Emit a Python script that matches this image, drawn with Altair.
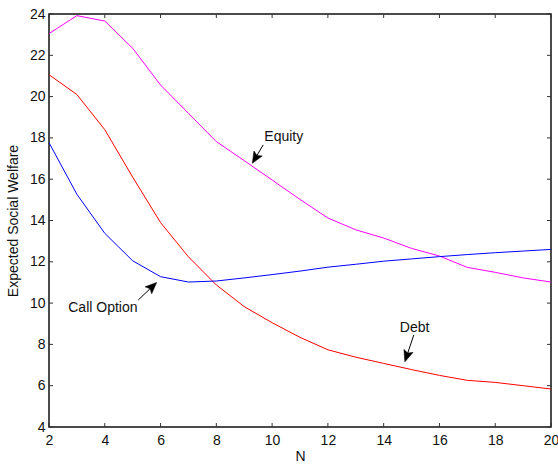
import math
import altair as alt
import pandas as pd

N = list(range(2, 21))
equity = [23.05, 23.92, 23.66, 22.34, 20.56, 19.19, 17.82, 16.9, 15.96, 15.02,
          14.12, 13.55, 13.15, 12.65, 12.28, 11.73, 11.49, 11.22, 11.02]
debt = [21.06, 20.1, 18.4, 16.1, 13.9, 12.24, 10.88, 9.83, 9.05, 8.34,
        7.74, 7.38, 7.08, 6.78, 6.5, 6.26, 6.16, 6.0, 5.84]
call_option = [17.77, 15.27, 13.38, 12.05, 11.28, 11.02, 11.07, 11.22, 11.38, 11.55,
               11.74, 11.88, 12.03, 12.14, 12.25, 12.35, 12.44, 12.52, 12.6]

series_names = ["Equity", "Debt", "Call Option"]
series_colors = ["#FF00FF", "#FF0000", "#0000FF"]

x_ticks = list(range(2, 21, 2))
y_ticks = list(range(4, 25, 2))

# annotations: label text, text anchor, arrow tail, arrow head
ann_labels = ["Equity", "Call Option", "Debt"]
ann_text_x = [9.72, 2.69, 14.58]
ann_text_y = [18.06, 9.75, 8.78]
ann_tail_x = [9.68, 5.2, 15.08]
ann_tail_y = [17.66, 10.15, 8.46]
ann_head_x = [9.29, 5.86, 14.76]
ann_head_y = [16.77, 11.0, 7.16]

W, H = 502, 413
XMIN, XMAX, YMIN, YMAX = 2, 20, 4, 24

rows = []
for name, vals in zip(series_names, [equity, debt, call_option]):
    for n, v in zip(N, vals):
        rows.append({"N": n, "value": v, "series": name})
df = pd.DataFrame(rows)

sx = W / (XMAX - XMIN)
sy = H / (YMAX - YMIN)
arr = []
for i in range(len(ann_labels)):
    dx = (ann_head_x[i] - ann_tail_x[i]) * sx
    dy = -(ann_head_y[i] - ann_tail_y[i]) * sy
    ang = (math.degrees(math.atan2(dx, -dy)) + 360) % 360
    L = math.hypot(dx, dy)
    f = max(0.0, (L - 6) / L)
    arr.append({
        "label": ann_labels[i], "tx": ann_text_x[i], "ty": ann_text_y[i],
        "x1": ann_tail_x[i], "y1": ann_tail_y[i],
        "x2": ann_tail_x[i] + (ann_head_x[i] - ann_tail_x[i]) * f,
        "y2": ann_tail_y[i] + (ann_head_y[i] - ann_tail_y[i]) * f,
        "hx": ann_head_x[i], "hy": ann_head_y[i], "ang": ang,
    })
adf = pd.DataFrame(arr)

FONT = "Liberation Sans"

xscale = alt.Scale(domain=[XMIN, XMAX], nice=False, zero=False)
yscale = alt.Scale(domain=[YMIN, YMAX], nice=False, zero=False)

lines = alt.Chart(df).mark_line(strokeWidth=1, clip=True).encode(
    x=alt.X("N:Q", scale=xscale, title="N",
            axis=alt.Axis(values=x_ticks, ticks=False, domain=False, grid=False,
                          labelFlush=False, labelOverlap=False,
                          labelPadding=6, titlePadding=2, labelFontSize=14,
                          titleFontSize=14, titleFontWeight="normal",
                          labelColor="#111", titleColor="#111", labelFont=FONT,
                          titleFont=FONT)),
    y=alt.Y("value:Q", scale=yscale, title="Expected Social Welfare",
            axis=alt.Axis(values=y_ticks, ticks=False, domain=False, grid=False,
                          labelFlush=False, labelOverlap=False,
                          labelPadding=4, titlePadding=9, labelFontSize=14,
                          titleFontSize=14, titleFontWeight="normal",
                          labelColor="#111", titleColor="#111", labelFont=FONT,
                          titleFont=FONT)),
    color=alt.Color("series:N", scale=alt.Scale(domain=series_names, range=series_colors),
                    legend=None),
    detail="series:N",
)

xt = pd.DataFrame({"t": x_ticks})
yt = pd.DataFrame({"t": y_ticks})
tk = 4
TC = "#333"
tick_bottom = alt.Chart(xt).mark_rule(color=TC, strokeWidth=1).encode(
    x=alt.X("t:Q", scale=xscale), y=alt.value(H), y2=alt.value(H - tk))
tick_top = alt.Chart(xt).mark_rule(color=TC, strokeWidth=1).encode(
    x=alt.X("t:Q", scale=xscale), y=alt.value(0), y2=alt.value(tk))
tick_left = alt.Chart(yt).mark_rule(color=TC, strokeWidth=1).encode(
    y=alt.Y("t:Q", scale=yscale), x=alt.value(0), x2=alt.value(tk))
tick_right = alt.Chart(yt).mark_rule(color=TC, strokeWidth=1).encode(
    y=alt.Y("t:Q", scale=yscale), x=alt.value(W), x2=alt.value(W - tk))

texts = alt.Chart(adf).mark_text(align="left", baseline="middle", fontSize=14,
                                 font=FONT, color="#111").encode(
    x=alt.X("tx:Q", scale=xscale), y=alt.Y("ty:Q", scale=yscale), text="label:N")
shafts = alt.Chart(adf).mark_rule(color="#000", strokeWidth=1).encode(
    x=alt.X("x1:Q", scale=xscale), y=alt.Y("y1:Q", scale=yscale),
    x2="x2:Q", y2="y2:Q")
heads = alt.Chart(adf).mark_point(
    shape="M0,0 L0.42,1 L0,0.8 L-0.42,1 Z", filled=True, fill="#000",
    stroke="#000", strokeWidth=0.5, opacity=1, size=520).encode(
    x=alt.X("hx:Q", scale=xscale), y=alt.Y("hy:Q", scale=yscale),
    angle=alt.Angle("ang:Q", scale=None))

chart = alt.layer(lines, tick_bottom, tick_top, tick_left, tick_right,
                  shafts, heads, texts).properties(
    width=W, height=H,
    autosize=alt.AutoSizeParams(type="none"),
    padding={"left": 49, "top": 14, "right": 7, "bottom": 37},
    background="white",
).configure_view(stroke="#111", strokeWidth=1.5)

chart.save("out.html", embed_options={"renderer": "svg", "actions": False})
